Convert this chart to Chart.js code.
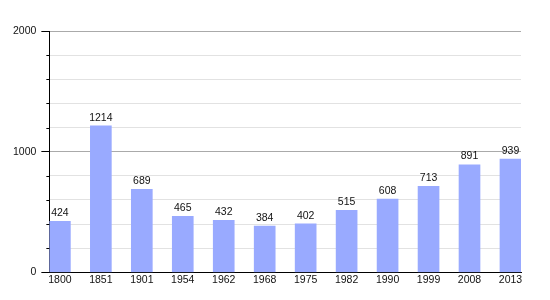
<!DOCTYPE html>
<html>
<head>
<meta charset="utf-8">
<script src="https://cdn.jsdelivr.net/npm/chart.js@4/dist/chart.umd.min.js"></script>
<style>
  html, body { margin: 0; padding: 0; background: #fff; }
  #wrap { width: 550px; height: 300px; }
</style>
</head>
<body>
<div id="wrap"><canvas id="popChart"></canvas></div>
<script>
// Population by census year
const years = ['1800', '1851', '1901', '1954', '1962', '1968', '1975', '1982', '1990', '1999', '2008', '2013'];
const population = [424, 1214, 689, 465, 432, 384, 402, 515, 608, 713, 891, 939];
const yTickLabels = [0, 1000, 2000];

const FONT = { family: '"Liberation Sans", Arial, sans-serif', size: 10.5 };

// bars sit on a linear x scale so the first and last bars touch the plot edges
const halfBar = 0.257;
const points = population.map((v, i) => ({ x: i, y: v }));

// value labels above bars + short minor ticks on the y axis
const extras = {
    id: 'extras',
    afterDatasetsDraw(chart) {
        const ctx = chart.ctx;
        const meta = chart.getDatasetMeta(0);
        ctx.save();
        ctx.font = FONT.size + 'px ' + FONT.family;
        ctx.fillStyle = '#111';
        ctx.textAlign = 'center';
        ctx.textBaseline = 'bottom';
        meta.data.forEach((bar, i) => {
            ctx.fillText(String(population[i]), bar.x, bar.y - 3);
        });

        const y = chart.scales.y;
        const area = chart.chartArea;
        ctx.strokeStyle = '#000';
        ctx.lineWidth = 1;
        for (let v = 200; v < 2000; v += 200) {
            if (v % 1000 === 0) continue;
            const py = Math.round(y.getPixelForValue(v)) + 0.5;
            ctx.beginPath();
            ctx.moveTo(area.left - 3, py);
            ctx.lineTo(area.left, py);
            ctx.stroke();
        }
        // baseline runs a little past the y axis
        const by = Math.round(y.getPixelForValue(0)) + 0.5;
        ctx.beginPath();
        ctx.moveTo(area.left - 5, by);
        ctx.lineTo(area.left, by);
        ctx.stroke();
        ctx.restore();
    }
};

new Chart(document.getElementById('popChart'), {
    type: 'bar',
    data: {
        datasets: [{
            data: points,
            backgroundColor: 'rgb(153, 170, 255)',
            borderWidth: 0,
            barThickness: 21
        }]
    },
    options: {
        responsive: true,
        maintainAspectRatio: false,
        animation: false,
        layout: { padding: { top: 31, right: 29, left: 8, bottom: 13 } },
        plugins: {
            legend: { display: false },
            tooltip: { enabled: false }
        },
        scales: {
            x: {
                type: 'linear',
                offset: false,
                min: -halfBar,
                max: years.length - 1 + halfBar,
                afterBuildTicks: scale => {
                    scale.ticks = years.map((_, i) => ({ value: i }));
                },
                grid: { display: false, drawTicks: false, tickLength: 0, offset: false },
                border: { color: '#000', width: 1 },
                ticks: {
                    autoSkip: false,
                    maxRotation: 0,
                    padding: 1,
                    color: '#111',
                    font: FONT,
                    callback: function (value) {
                        return years[value];
                    }
                }
            },
            y: {
                min: 0,
                max: 2000,
                grid: {
                    color: ctx => (ctx.tick && ctx.tick.value % 1000 === 0) ? '#aaaaaa' : '#e2e2e2',
                    tickColor: ctx => (ctx.tick && ctx.tick.value % 1000 === 0) ? '#000' : 'rgba(0,0,0,0)',
                    tickLength: 8
                },
                border: { color: '#000', width: 1 },
                ticks: {
                    stepSize: 200,
                    padding: 5,
                    color: '#111',
                    font: FONT,
                    callback: function (value) {
                        return yTickLabels.includes(value) ? String(value) : '';
                    }
                }
            }
        }
    },
    plugins: [extras]
});
</script>
</body>
</html>
